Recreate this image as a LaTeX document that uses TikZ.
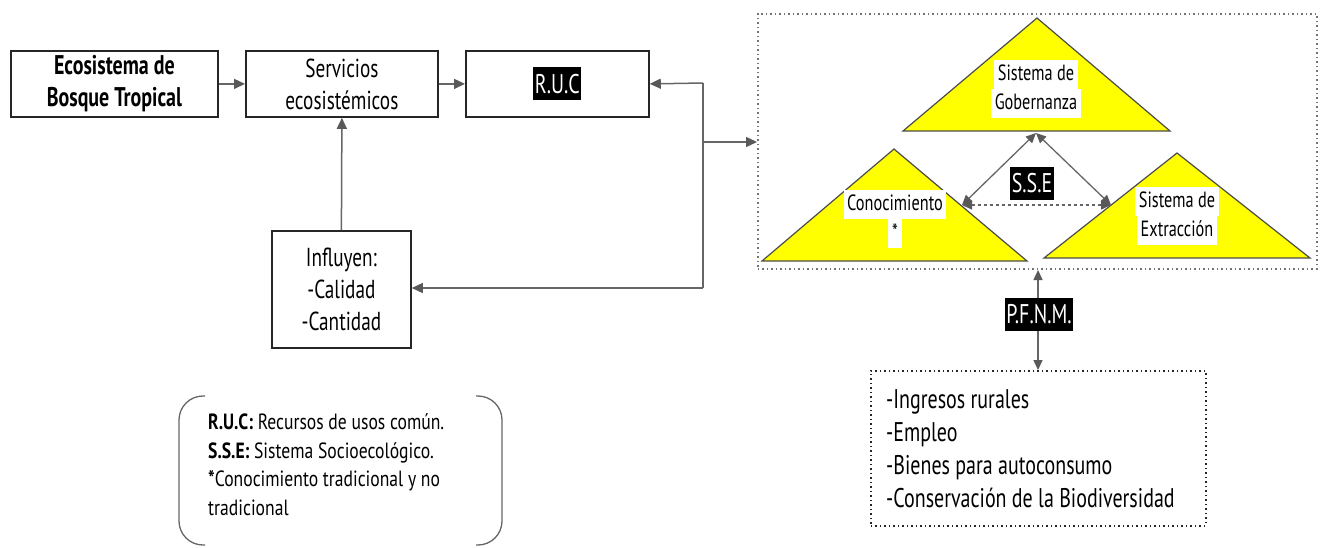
\documentclass[tikz,border=0pt]{standalone}
\usepackage{fontspec}
\setmainfont{PT Sans}[FakeStretch=0.74]
\newfontfamily\legfont{PT Sans}[FakeStretch=0.8]
\usetikzlibrary{arrows.meta}
\definecolor{lnc}{HTML}{666666}
\definecolor{tipc}{HTML}{595959}
\definecolor{triy}{HTML}{FFFF00}
\newcommand{\wl}[1]{{\setlength{\fboxsep}{0pt}\colorbox{white}{\strut\,#1\,}}}
\begin{document}
\begin{tikzpicture}[x=1pt,y=-1pt,
  box/.style={draw=black!85, line width=1.8pt, anchor=north west, inner sep=0pt,
    align=center, font=\fontsize{26}{32}\selectfont},
  conn/.style={draw=lnc, line width=1.5pt, -{Triangle[length=11pt,width=10pt,color=tipc]}},
  dconn/.style={draw=lnc, line width=1.3pt, {Triangle[length=10pt,width=9pt,color=tipc]}-{Triangle[length=10pt,width=9pt,color=tipc]}},
  tri/.style={draw=black!70, line width=1.2pt, fill=triy},
  dotbox/.style={draw=black!55, line width=1.5pt, dash pattern=on 1.5pt off 3pt, anchor=north west, inner sep=0pt},
  trilabel/.style={align=center, inner sep=0pt, font=\fontsize{22}{29}\selectfont},
  blabel/.style={fill=black, text=white, inner xsep=1.5pt, inner ysep=0pt, minimum height=33pt,
    font=\fontsize{27}{30}\selectfont}
]
\useasboundingbox (0,0) rectangle (1327,547);

% top boxes
\node[box, minimum width=207pt, minimum height=66pt, font=\fontsize{27}{32}\selectfont\bfseries] (b1) at (10,50)
  {Ecosistema de\\Bosque Tropical};
\node[box, minimum width=192pt, minimum height=66pt] (b2) at (245,50)
  {Servicios\\ecosistémicos};
\node[box, minimum width=183pt, minimum height=66pt] (b3) at (465,50) {};
\node[blabel] (ruc) at (b3.center) {R.U.C};
\node[box, minimum width=139pt, minimum height=117pt] (inf) at (271,230)
  {Influyen:\\-Calidad\\-Cantidad};

% SSE dotted box
\node[dotbox, minimum width=559pt, minimum height=255pt] (sse) at (757,13) {};

\draw[conn] (b1) -- (b2);
\draw[conn] (b2) -- (b3);

\coordinate (j1) at (703,83);
\coordinate (j2) at (703,142);
\coordinate (j3) at (703,288);
\draw[draw=lnc, line width=1.5pt] (j1) -- (j3);
\draw[conn] (j1) -- (b3.east);
\draw[conn] (j2) -- (sse.west |- j2);
\draw[conn] (j3) -- (inf.east |- j3);
\draw[conn] (inf.north) -- (b2.south);

% triangles
\draw[tri] (903,131) -- (1037,18) -- (1170,131) -- cycle;
\draw[tri] (762,261) -- (894,149) -- (1027,261) -- cycle;
\draw[tri] (1044,258) -- (1177,153) -- (1310,258) -- cycle;

\node[trilabel] (gob) at (1036,89) {\wl{Sistema de}\\\wl{Gobernanza}};
\node[trilabel] (con) at (895,219) {\wl{Conocimiento}\\\wl{*}};
\node[trilabel] (ext) at (1177,216) {\wl{Sistema de}\\\wl{Extracción}};

\coordinate (g) at (1036,133);
\coordinate (c) at (962,205);
\coordinate (e) at (1111,205);
\draw[dconn] (g) -- (c);
\draw[dconn] (g) -- (e);
\draw[dconn, dashed] (c) -- (e);
\node[blabel] (ssel) at (1032,183) {S.S.E};

% PFNM
\node[dotbox, draw=black!85, minimum width=335pt, minimum height=155pt] (out) at (870,370) {};
\coordinate (p1) at (1038,270);
\draw[dconn, line width=1.5pt] (p1) -- (out.north -| p1);
\node[blabel] (pfnm) at (1039,314) {P.F.N.M.};
\node[anchor=base west, align=left, inner sep=0pt, font=\fontsize{27}{33}\selectfont] (outt) at (886,507)
  {-Ingresos rurales\\-Empleo\\-Bienes para autoconsumo\\-Conservación de la Biodiversidad};

% legend
\draw[draw=black!60, line width=1.3pt, rounded corners=24pt] (205,396) -- (179,396) -- (179,545) -- (205,545);
\draw[draw=black!60, line width=1.3pt, rounded corners=24pt] (476,396) -- (502,396) -- (502,545) -- (476,545);
\node[anchor=base west, align=left, inner sep=0pt, font=\legfont\fontsize{22}{28.5}\selectfont] (leg) at (208,515)
  {\textbf{R.U.C:} Recursos de usos común.\\\textbf{S.S.E:} Sistema Socioecológico.\\\textbf{*}Conocimiento tradicional y no\\tradicional};
\end{tikzpicture}
\end{document}
